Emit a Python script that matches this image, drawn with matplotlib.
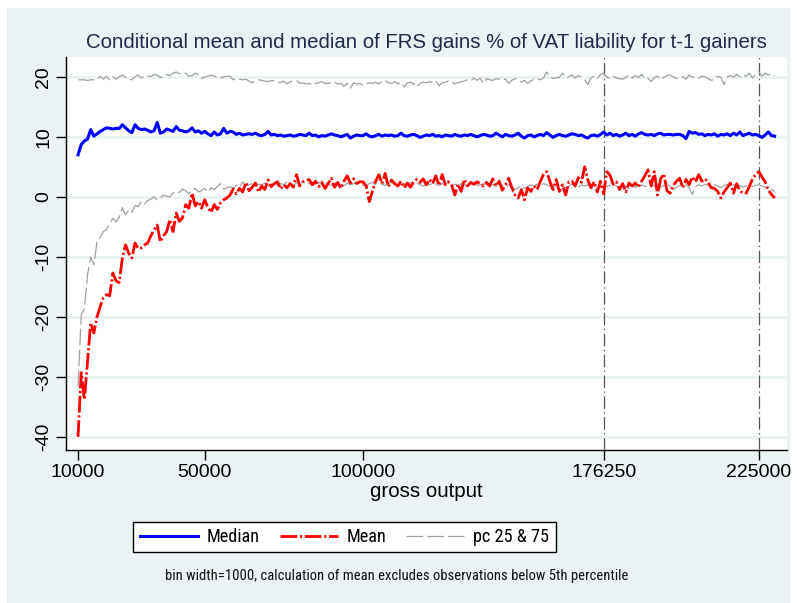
import matplotlib
matplotlib.use("Agg")
import matplotlib.pyplot as plt
from matplotlib.lines import Line2D
from matplotlib.patches import Rectangle
from matplotlib import font_manager
from matplotlib.textpath import TextPath
from matplotlib.font_manager import FontProperties
import numpy as np

plt.rcParams['font.family'] = ['Liberation Sans', 'DejaVu Sans']
plt.rcParams['lines.scale_dashes'] = False

_avail = set(f.name for f in font_manager.fontManager.ttflist)
narrow_font = 'Liberation Sans'
for cand in ['Liberation Sans Narrow', 'Arial Narrow', 'Nimbus Sans Narrow',
             'Nimbus Sans L Condensed', 'Roboto Condensed',
             'IBM Plex Sans Condensed', 'Archivo Narrow', 'PT Sans Narrow',
             'Open Sans Condensed']:
    if cand in _avail:
        narrow_font = cand
        break

# ---- data -------------------------------------------------------------
x_start, x_step = 10000, 1000

median = [
    7.0, 8.7, 9.3, 9.6, 11.2, 10.1, 10.5, 10.9, 11.2, 11.5,
    11.4, 11.3, 11.4, 11.4, 12.0, 11.5, 11.0, 10.7, 12.0, 11.4,
    11.2, 11.3, 11.1, 10.8, 11.0, 12.4, 10.6, 10.8, 11.3, 11.1,
    10.9, 11.7, 11.1, 11.0, 10.8, 11.0, 11.5, 10.8, 11.0, 10.6,
    10.9, 10.5, 10.2, 10.8, 10.3, 10.5, 11.4, 10.6, 10.9, 10.8,
    10.4, 10.6, 10.3, 10.4, 10.5, 10.4, 10.6, 10.3, 10.2, 10.4,
    10.9, 10.3, 10.4, 10.2, 10.3, 10.1, 10.2, 10.3, 10.1, 10.2,
    10.4, 10.3, 10.2, 10.6, 10.2, 10.3, 10.0, 10.2, 10.1, 10.3,
    10.5, 10.3, 10.2, 10.0, 10.2, 10.4, 9.8, 10.1, 10.3, 10.2,
    10.2, 10.5, 10.1, 10.0, 10.2, 10.4, 10.1, 10.3, 10.2, 10.3,
    10.1, 10.2, 10.6, 10.2, 10.1, 10.3, 10.4, 10.2, 9.9, 10.1,
    10.3, 10.2, 10.4, 10.1, 10.2, 10.0, 10.3, 10.2, 10.1, 10.4,
    10.2, 10.1, 10.3, 10.2, 10.4, 10.2, 10.0, 10.2, 10.4, 10.3,
    10.1, 10.2, 10.6, 10.3, 10.0, 10.4, 10.2, 10.1, 10.3, 10.6,
    10.1, 9.8, 10.2, 10.3, 10.0, 10.2, 10.4, 10.2, 10.7, 10.3,
    9.9, 10.2, 10.4, 10.2, 10.1, 10.3, 10.5, 10.4, 10.2, 10.3,
    10.0, 9.8, 10.2, 10.3, 10.1, 10.4, 10.8, 10.3, 10.6, 10.2,
    10.4, 10.1, 10.3, 10.6, 10.2, 10.4, 10.1, 10.5, 10.7, 10.4,
    10.3, 10.4, 10.2, 10.5, 10.6, 10.3, 10.4, 10.4, 10.3, 10.4,
    10.4, 10.2, 9.7, 10.9, 10.6, 10.7, 10.4, 10.5, 10.2, 10.4,
    10.3, 10.5, 10.1, 10.4, 10.3, 10.5, 10.2, 10.6, 10.3, 10.8,
    10.2, 10.4, 10.6, 10.3, 10.4, 10.2, 9.9, 10.3, 10.8, 10.2,
    10.1,
]

mean = [
    -40.0, -29.3, -33.8, -27.5, -21.0, -22.7, -20.0, -18.3, -16.8, -16.3,
    -16.5, -12.7, -14.0, -14.3, -10.2, -8.0, -9.4, -10.2, -7.7, -8.6,
    -8.5, -8.0, -7.7, -6.5, -5.5, -4.7, -7.5, -6.5, -5.8, -3.8,
    -5.8, -2.7, -4.1, -3.5, -1.3, -1.9, 0.6, -1.5, -0.8, -1.9,
    -0.5, -1.8, -2.6, -1.3, -2.1, -1.0, -0.5, -0.2, 0.3, 1.3,
    0.5, 1.4, 0.8, 2.4, 1.0, 1.6, 2.3, 0.8, 1.8, 1.2,
    2.8, 1.7, 2.2, 2.5, 1.3, 2.0, 1.5, 2.2, 1.6, 3.7,
    1.8, 2.5, 2.7, 2.9, 2.0, 2.6, 1.7, 2.4, 1.4, 2.2,
    3.1, 1.6, 2.4, 1.4, 2.6, 3.5, 2.3, 3.0, 2.2, 2.5,
    2.5, 1.8, -0.8, 1.0, 2.6, 3.7, 2.2, 3.9, 1.7, 2.8,
    2.2, 1.8, 2.6, 1.5, 2.3, 1.6, 2.5, 2.9, 2.4, 3.0,
    2.0, 2.9, 2.2, 3.5, 1.9, 3.7, 2.0, 2.5, 1.9, 0.3,
    2.1, 0.9, 2.9, 1.8, 2.4, 2.1, 2.5, 2.2, 1.8, 2.4,
    1.8, 3.0, 1.8, 2.6, 1.1, 2.0, 3.1, 1.5, 0.3, -0.2,
    1.2, -0.5, 1.5, 0.9, 1.8, 1.2, 2.6, 3.7, 4.2, 2.6,
    1.2, 2.9, 0.9, 2.0, 0.3, 2.5, 2.6, 1.8, 3.2, 2.4,
    5.0, 2.8, 1.5, 2.5, 0.8, 2.6, 0.5, 4.2, 3.6, 2.1,
    2.5, 1.2, 2.2, 0.8, 2.3, 1.8, 2.3, 1.6, 2.6, 3.5,
    4.5, 1.8, 4.2, 0.3, 3.0, 3.8, 1.0, 0.6, 1.9, 2.6,
    3.1, 1.5, 2.9, 2.0, 3.3, 2.5, 3.7, 2.6, 3.0, 2.4,
    1.5, 1.4, 0.9, -0.2, 0.8, 1.5, 2.3, 0.6, 2.2, 1.0,
    0.6, 0.6, 1.7, 3.0, 3.7, 4.2, 3.3, 2.5, 1.1, 0.4,
    -0.2,
]

pc75 = [
    19.5, 19.5, 19.5, 19.4, 19.5, 19.5, 19.5, 20.1, 19.6, 20.1,
    19.5, 20.0, 19.6, 20.0, 20.3, 19.9, 19.6, 19.5, 20.0, 20.3,
    19.8, 20.1, 20.2, 20.0, 20.4, 20.3, 19.9, 20.0, 20.4, 20.2,
    20.6, 20.8, 20.5, 20.7, 20.6, 20.1, 20.2, 20.6, 20.4, 19.7,
    20.0, 20.1, 20.3, 20.1, 19.9, 19.8, 20.0, 20.1, 20.1, 19.5,
    19.7, 19.6, 19.5, 19.6, 19.3, 19.0, 19.4, 19.5, 19.4, 19.3,
    19.2, 19.4, 19.3, 19.0, 19.1, 19.3, 18.8, 19.2, 19.3, 19.4,
    18.9, 19.0, 18.8, 18.9, 18.6, 18.9, 19.0, 19.2, 18.9, 18.9,
    19.0, 19.1, 18.8, 18.9, 18.4, 18.9, 18.1, 19.0, 18.8, 18.9,
    18.6, 18.8, 19.0, 18.9, 19.1, 18.8, 19.3, 19.4, 19.0, 18.9,
    19.2, 18.8, 19.1, 18.3, 19.0, 19.1, 18.8, 18.3, 18.9, 19.1,
    19.0, 19.2, 19.0, 19.3, 18.5, 19.0, 19.1, 19.3, 19.3, 18.8,
    19.0, 19.2, 19.3, 19.5, 19.3, 19.8, 19.4, 19.8, 18.9, 19.7,
    19.5, 19.4, 19.7, 19.6, 19.5, 19.6, 18.9, 19.4, 19.7, 19.6,
    19.1, 19.4, 18.9, 19.3, 19.6, 19.7, 19.5, 19.8, 20.8, 20.0,
    19.7, 19.8, 19.9, 20.6, 19.9, 20.0, 20.3, 19.8, 20.2, 19.9,
    19.5, 18.7, 19.8, 20.1, 19.7, 20.4, 20.6, 19.9, 19.8, 20.1,
    19.8, 19.7, 19.6, 19.9, 20.3, 19.8, 20.2, 19.9, 20.4, 19.7,
    19.8, 19.2, 19.9, 20.1, 19.6, 19.9, 20.2, 20.3, 20.0, 19.7,
    19.8, 20.0, 19.6, 20.3, 19.9, 20.1, 19.8, 20.1, 20.0, 19.7,
    19.4, 19.6, 20.1, 19.9, 18.7, 20.0, 20.2, 19.9, 20.4, 20.0,
    20.3, 20.1, 20.6, 19.8, 20.4, 20.9, 20.1, 20.6, 20.3, 20.5,
    20.1,
]

pc25 = [
    -31.7, -19.8, -18.6, -13.0, -10.0, -11.3, -7.5, -6.8, -5.8, -5.5,
    -4.4, -3.6, -4.2, -3.4, -1.8, -3.0, -2.2, -2.6, -1.5, -1.6,
    -0.8, -1.2, -0.6, -0.4, 0.0, -0.5, -0.2, 0.3, 0.1, 0.0,
    0.6, 0.9, 0.7, 1.3, 1.0, 0.5, 1.1, 1.4, 0.8, 1.0,
    1.4, 0.8, 1.5, 1.2, 1.7, 2.2, 1.3, 1.5, 1.7, 1.4,
    1.9, 1.6, 2.5, 1.8, 2.0, 2.2, 1.9, 2.1, 2.0, 2.3,
    1.8, 2.1, 2.4, 1.9, 2.2, 2.0, 2.6, 2.1, 1.9, 2.3,
    2.2, 2.5, 2.0, 2.3, 1.9, 2.2, 2.4, 2.0, 2.3, 2.1,
    1.9, 2.2, 2.4, 2.1, 1.8, 2.3, 2.0, 2.2, 2.5, 2.1,
    2.0, 1.8, 2.2, 2.4, 2.0, 2.3, 2.1, 1.9, 2.2, 2.4,
    2.1, 2.3, 2.0, 2.2, 1.9, 2.4, 2.1, 2.3, 2.0, 1.8,
    2.2, 2.0, 2.3, 2.1, 1.9, 2.2, 2.0, 2.4, 1.7, 2.1,
    1.9, 2.2, 2.0, 1.8, 2.1, 2.3, 1.9, 2.0, 2.2, 1.8,
    2.0, 2.1, 1.7, 2.2, 1.9, 1.6, 2.0, 1.8, 1.2, 1.5,
    1.9, 1.4, 1.7, 2.0, 1.8, 2.1, 1.9, 2.2, 2.0, 1.8,
    1.6, 1.9, 1.7, 2.0, 1.5, 1.8, 2.1, 1.9, 1.6, 2.0,
    1.8, 2.0, 1.7, 1.9, 1.4, 1.8, 2.0, 1.7, 1.9, 2.1,
    1.8, 1.6, 2.0, 1.7, 1.3, 1.9, 1.6, 1.8, 2.0, 1.7,
    1.9, 2.2, 1.8, 2.0, 1.6, 1.9, 2.1, 1.8, 1.2, 1.6,
    1.9, 1.7, 2.0, 1.5, 0.4, 1.7, 2.0, 1.8, 2.1, 1.9,
    1.7, 2.0, 1.8, 1.5, 1.9, 2.1, 1.8, 2.0, 1.7, 1.9,
    1.6, 1.8, 2.0, 1.7, 1.9, 2.0, 1.8, 1.6, 1.4, 1.2,
    0.9,
]

x_ticks = [10000, 50000, 100000, 176250, 225000]
y_ticks = [-40, -30, -20, -10, 0, 10, 20]
vlines = [176250, 225000]
legend_labels = ["Median", "Mean", "pc 25 & 75"]
title = "Conditional mean and median of FRS gains % of VAT liability for t-1 gainers"
xlabel = "gross output"
note = "bin width=1000, calculation of mean excludes observations below 5th percentile"

x = x_start + x_step * np.arange(len(median))

# ---- figure -----------------------------------------------------------
W, H = 797, 603
fig = plt.figure(figsize=(W / 100, H / 100), dpi=100, facecolor="white")
renderer = fig.canvas.get_renderer()


def size_for_width(text, family, target_px, ref_size=10.0):
    t = fig.text(0, 0, text, fontsize=ref_size, family=family)
    w = t.get_window_extent(renderer=renderer).width
    t.remove()
    return ref_size * target_px / w


def size_for_cap(family, cap_px):
    tp = TextPath((0, 0), "H", size=100, prop=FontProperties(family=family))
    ext = tp.get_extents()
    cap_ratio = ext.height / 100.0
    return cap_px / cap_ratio * 72 / 100


panel_col = "#EAF2F3"
fig.patches.append(Rectangle((7 / W, 0), (790 - 7) / W, (H - 8) / H,
                             transform=fig.transFigure, facecolor=panel_col,
                             edgecolor="none", zorder=-10))

L, R, T, B = 66, 787, 57, 450
ax = fig.add_axes([L / W, 1 - B / H, (R - L) / W, (B - T) / H], zorder=1)
ax.set_facecolor("white")

for s in ["top", "right"]:
    ax.spines[s].set_visible(False)
for s in ["left", "bottom"]:
    ax.spines[s].set_color("black")
    ax.spines[s].set_linewidth(1.0)

ax.set_xlim(6200, 233900)
ax.set_ylim(-42.2, 23.3)

for yv in y_ticks:
    ax.axhline(yv, color=panel_col, lw=2.0, zorder=1)

vl_style = (0, (9, 2.5, 1, 2.5))
for xv in vlines:
    ax.axvline(xv, color="#555555", lw=0.9, ls=vl_style, zorder=2)

gray_style = (0, (12, 3))
mean_style = (0, (12, 2, 1.5, 2))
ax.plot(x, pc75, color="#A0A0A0", lw=0.9, ls=gray_style, zorder=3)
ax.plot(x, pc25, color="#A0A0A0", lw=0.9, ls=gray_style, zorder=3)
ax.plot(x, mean, color="#FF0000", lw=2.0, ls=mean_style, zorder=4)
ax.plot(x, median, color="#0000FF", lw=2.2, ls="-", zorder=5)

ax.set_xticks(x_ticks)
ax.set_xticklabels([str(v) for v in x_ticks])
ax.set_yticks(y_ticks)
ax.set_yticklabels([str(v) for v in y_ticks], rotation=90, va="center")
ax.tick_params(axis="both", direction="out", length=7, width=1.0,
               colors="black", labelsize=14, pad=3)

xl_size = size_for_width(xlabel, 'Liberation Sans', 113)
ax.set_xlabel(xlabel, fontsize=xl_size, labelpad=1)

t_size = size_for_width(title, 'Liberation Sans', 683)
fig.text((85 + 768) / 2 / W, 1 - 43 / H, title, ha="center", va="center",
         fontsize=t_size, color="#1E2B4A")

leg_size_h = size_for_cap(narrow_font, 13.0)
leg_size_w = size_for_width("pc 25 & 75", narrow_font, 74)
leg_size = min(leg_size_h, leg_size_w * 1.12)
px_per_pt = leg_size * 100 / 72
handles = [
    Line2D([], [], color="#0000FF", lw=2.2, ls="-"),
    Line2D([], [], color="#FF0000", lw=2.0, ls=mean_style),
    Line2D([], [], color="#A0A0A0", lw=0.9, ls=gray_style),
]
leg = fig.legend(handles, legend_labels, loc="center",
                 bbox_to_anchor=((135 + 554) / 2 / W, 1 - 537 / H),
                 ncol=3, frameon=True, fancybox=False,
                 prop={'family': narrow_font, 'size': leg_size},
                 handlelength=58 / px_per_pt,
                 handletextpad=9 / px_per_pt,
                 columnspacing=20 / px_per_pt,
                 borderpad=0.35, edgecolor="black", facecolor="white",
                 framealpha=1.0)
leg.get_frame().set_linewidth(1.0)

note_size = min(size_for_cap(narrow_font, 11.0),
                size_for_width(note, narrow_font, 447) * 1.03)
fig.text(165 / W, 1 - 576 / H, note, ha="left", va="center",
         fontsize=note_size, family=narrow_font, color="#111111")

fig.savefig("out.png", dpi=100, facecolor="white")
